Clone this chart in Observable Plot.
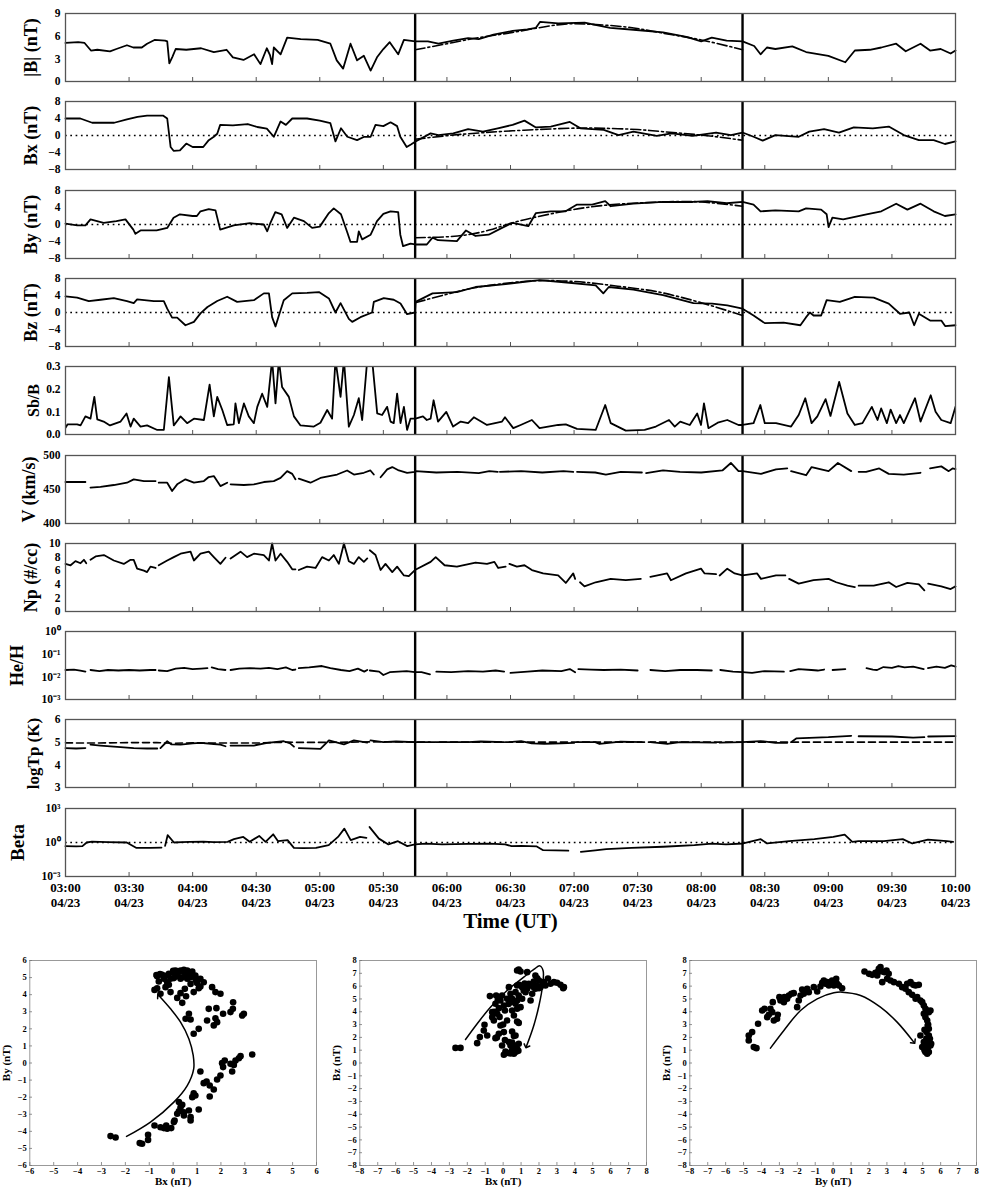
<!DOCTYPE html>
<html><head><meta charset="utf-8">
<script src="https://cdn.jsdelivr.net/npm/d3@7"></script>
<script src="https://cdn.jsdelivr.net/npm/@observablehq/plot@0.6"></script>
<style>
body{margin:0;background:#fff;}
#wrap{position:relative;width:989px;height:1197px;overflow:hidden;}
#wrap svg{position:absolute;overflow:visible;}
</style></head><body><div id="wrap"></div>
<script>
// ---------- time axis (minutes after 03:00 UT on 04/23) ----------
const timeTicks = [0,30,60,90,120,150,180,210,240,270,300,330,360,390,420];
const timeLabels = ["03:00","03:30","04:00","04:30","05:00","05:30","06:00","06:30","07:00","07:30","08:00","08:30","09:00","09:30","10:00"];
const dateLabel = "04/23";
const mcBounds = [165, 319.5]; // 05:45 and 08:19:30 UT

// ---------- series: [minute, value], null = data gap ----------
const magB = [[0,5.1],[6,5.2],[9,5.1],[12,4.1],[15,4.2],[21,4.0],[24,4.3],[29,4.8],[32,4.5],[36,4.5],[38.5,5.0],[42,5.5],[47,5.4],[48,5.3],[49,2.4],[50.5,3.3],[52,4.3],[57,4.2],[64,4.4],[70,3.9],[76,4.2],[79,3.2],[84,2.85],[89,3.6],[92,2.3],[95,4.4],[96.5,3.5],[97.5,2.3],[98.3,4.5],[101.5,3.6],[104.6,5.8],[111,5.6],[119,5.5],[125,5.0],[128,2.8],[131,1.7],[134.5,5.0],[137.6,2.8],[140.8,3.4],[144,1.45],[147,3.2],[150,4.3],[153,5.2],[157,3.6],[159.7,5.5],[165,5.3],[171,5.3],[176,5.0],[183,5.4],[190,5.75],[195,5.6],[202,6.2],[211,6.7],[218,6.9],[222,7.1],[224,7.9],[232.5,7.7],[245,7.8],[250,7.5],[257,7.1],[268,6.85],[282,6.5],[293,5.9],[300,5.3],[305,5.8],[312,5.4],[319.5,5.3],[325,4.7],[328,3.6],[331,4.5],[335,4.3],[343,4.65],[349.5,3.9],[360,3.4],[368,2.55],[372.5,4.1],[379.6,4.2],[385,4.5],[392,5.0],[396.5,4.0],[403.5,5.0],[408,4.1],[413,4.3],[417.7,3.7],[420,4.1]];
const fitB = [[165,4.2],[180,5.0],[195,5.8],[211,6.5],[232,7.5],[246,7.6],[265,7.2],[282,6.4],[300,5.5],[319.5,4.2]];

const bx = [[0,4.0],[7,4.0],[12.6,3.0],[23,3.0],[29,3.8],[34,4.4],[38.5,4.7],[46,4.7],[48,4.0],[49.6,-2.7],[51,-3.6],[54,-3.5],[57,-1.9],[60,-2.7],[65,-2.7],[67.6,-1.1],[70,-0.3],[71.6,0.4],[73,2.5],[79,2.4],[86,2.7],[90.5,2.0],[95,1.6],[98.3,-0.3],[101.5,3.3],[104,2.5],[107,4.0],[114,4.0],[120,3.5],[125,2.9],[127.4,-1.4],[130,1.7],[133,-0.3],[137.6,-1.1],[141,-0.3],[144,-0.3],[146.3,2.5],[150,2.2],[153.4,3.1],[156.5,2.2],[158,-0.3],[161,-2.7],[163,-2.1],[165.2,-1.4],[172.3,0.5],[176,0.1],[183,0.5],[190,1.5],[197,0.9],[204,1.7],[211,2.5],[216.6,3.5],[222,1.9],[229,2.1],[238,3.2],[243,1.7],[254,1.3],[261,0.1],[268,0.9],[279,-0.1],[286,0.5],[296,-0.1],[307,0.7],[314,0.1],[319.5,0.7],[324.7,-0.3],[329,-1.2],[335,0.1],[346,-0.3],[351,0.9],[358,1.5],[365,0.7],[372,1.9],[381,1.7],[388.5,2.1],[395.6,0.1],[402.7,-1.1],[409.7,-1.1],[415,-2.0],[420,-1.4]];
const fitBx = [[165,-0.9],[185,0.2],[211,1.1],[238,1.7],[254,1.7],[270,1.4],[282,0.9],[300,0.1],[319.5,-1.1]];

const by = [[0,0.2],[5.5,-0.2],[9.4,-0.2],[11.8,1.2],[18,0.4],[24,0.8],[28.3,1.2],[32,-1.2],[33,-2.2],[35.4,-1.4],[43,-1.4],[48,-0.8],[51,1.6],[54,2.4],[60,2.0],[62,2.0],[63.7,3.1],[67.6,3.6],[70.8,3.3],[73,-1.2],[79.4,-0.2],[87,0.3],[93.6,0.0],[95.2,-1.6],[96.7,0.4],[99,2.9],[102,2.4],[104.6,-0.8],[107.8,1.6],[112.5,0.8],[116.4,-0.8],[120,-0.5],[124.3,2.7],[126.6,3.8],[130,2.4],[133,-1.9],[134.5,-4.1],[137.6,-4.1],[138.4,-1.6],[140,-3.5],[144,-2.4],[147,0.8],[150,2.5],[153.4,3.1],[157,2.9],[158,-2.4],[159.3,-5.1],[162.8,-4.5],[164.9,-4.7],[170.5,-4.7],[173.2,-3.1],[175.8,-3.7],[184.7,-3.9],[189,-1.4],[193.5,-2.7],[199.7,-2.4],[206,-0.8],[211,0.4],[218.4,-0.4],[222,2.7],[229,3.1],[236,3.1],[241.4,4.7],[248.5,4.7],[254.7,5.5],[257.3,4.3],[268,4.9],[282,5.3],[296,5.3],[303,5.5],[312,5.0],[319.5,5.3],[324.7,4.7],[328,3.1],[335,3.3],[346,3.1],[349.5,3.8],[356.6,3.5],[359.2,2.4],[360.1,-0.6],[361.9,1.6],[367,1.2],[378,2.4],[385,3.1],[392,4.9],[397.3,3.5],[403.5,4.9],[409.7,3.1],[415,2.0],[420,2.4]];
const fitBy = [[165,-3.1],[185,-2.7],[200,-1.3],[211,0.4],[229,2.5],[254,4.5],[282,5.3],[300,5.3],[319.5,4.3]];

const bz = [[0,3.8],[5.5,3.5],[11,2.7],[16.5,3.0],[22.8,3.4],[29,2.7],[32.2,2.2],[33.8,3.1],[41.7,2.7],[46.4,2.7],[48,0.9],[50.3,-1.2],[52.7,-1.2],[56.6,-3.0],[60.6,-2.2],[63.7,-0.2],[67,1.3],[71.6,2.7],[76.3,3.7],[81,2.5],[88.9,2.9],[93.6,4.5],[96,4.5],[97.5,-1.1],[99.1,-3.3],[100.7,-0.7],[103,2.9],[107,4.5],[114,4.6],[119.6,4.8],[124.3,3.3],[127.4,0.0],[129.8,2.2],[133.7,-1.5],[135.3,-2.2],[139.2,-1.1],[144.7,0.0],[145.5,2.5],[150.2,3.4],[154.9,3.0],[158.1,2.1],[161.2,-0.4],[164.9,0.0],[165.2,2.5],[173.2,4.5],[184.7,4.8],[193.5,6.0],[207.7,6.7],[223.7,7.6],[237.8,7.0],[250.2,6.4],[253.8,4.5],[256.4,6.0],[268,5.4],[282,4.1],[296.3,2.2],[305.2,2.1],[312.3,1.7],[319.5,0.9],[324.7,-0.7],[330,-2.5],[338.9,-2.4],[346.8,-3.0],[349.5,-1.1],[351.3,0.0],[353,-0.7],[356.6,-0.7],[359.2,2.9],[365.4,2.5],[372.5,3.7],[381.4,3.5],[388.5,2.1],[393.8,-0.3],[398.2,0.0],[400.5,-3.0],[402.7,-0.3],[408,-1.9],[413.3,-1.9],[415.1,-3.2],[420,-3.0]];
const fitBz = [[165,2.3],[180,4.3],[194,5.9],[210,7.0],[224,7.5],[240,7.3],[254,6.6],[270,5.6],[282,4.6],[300,2.3],[319.5,-0.7]];

const sbB = [[0,0.03],[1,0.045],[5.5,0.045],[7.1,0.04],[9.4,0.08],[11.8,0.07],[13.6,0.166],[15,0.067],[18,0.057],[21,0.04],[26,0.057],[28.8,0.093],[30.7,0.035],[32.2,0.07],[35.4,0.035],[38.5,0.04],[43.3,0.02],[46.4,0.02],[48.8,0.253],[51.1,0.04],[54.3,0.08],[57.4,0.05],[60.6,0.07],[65.3,0.064],[68,0.22],[70,0.08],[71.6,0.166],[74,0.108],[76.3,0.042],[79.4,0.045],[80.2,0.137],[81.8,0.05],[84.2,0.137],[86.5,0.08],[88.9,0.05],[90.5,0.122],[92.8,0.18],[95.2,0.122],[97.5,0.33],[99.1,0.137],[100.7,0.33],[102.2,0.21],[105.4,0.166],[107.8,0.08],[110.9,0.04],[117.2,0.035],[120.3,0.052],[123.5,0.108],[125.8,0.07],[127.4,0.33],[129.8,0.166],[131.4,0.33],[133.7,0.035],[136.1,0.086],[138.4,0.16],[140,0.064],[142.4,0.33],[144.7,0.33],[147.1,0.093],[149.4,0.086],[151.8,0.122],[153.4,0.057],[154.9,0.05],[156.5,0.18],[158.1,0.05],[159.7,0.122],[161.2,0.02],[162.8,0.07],[165.2,0.07],[168.7,0.08],[170.5,0.064],[172.3,0.07],[173.7,0.151],[175.8,0.057],[179.7,0.1],[182.9,0.035],[186.5,0.057],[190,0.05],[192.7,0.076],[198.9,0.042],[206,0.057],[207.4,0.076],[211.3,0.028],[214.8,0.042],[220.1,0.064],[223.7,0.028],[232.5,0.042],[236.1,0.045],[241.4,0.025],[250.2,0.02],[254.7,0.13],[257.3,0.05],[264.4,0.017],[273.3,0.02],[278.6,0.035],[284.8,0.064],[287.5,0.035],[290.1,0.057],[294.6,0.042],[298.1,0.093],[299.9,0.042],[301.3,0.137],[303.4,0.028],[307.8,0.052],[312.3,0.064],[317.6,0.042],[319.5,0.042],[324.7,0.05],[327.9,0.13],[330,0.05],[335.3,0.05],[342.4,0.035],[346,0.086],[349.1,0.16],[352.1,0.05],[354.8,0.08],[358.7,0.156],[361,0.082],[365.1,0.232],[369,0.093],[372.5,0.042],[376.1,0.05],[380.5,0.122],[383.2,0.064],[384.9,0.115],[387.6,0.05],[389.4,0.11],[392,0.05],[393.8,0.086],[395.6,0.05],[400.9,0.16],[403.5,0.057],[408.3,0.173],[410.6,0.1],[413.3,0.064],[417.7,0.05],[420,0.122]];

const vSw = [[0,461],[4,461],[9.4,461],[10.5,null],[11.8,452.7],[16.5,454],[22.8,456.6],[29,460],[32.2,464.9],[37,462.4],[42.5,462.4],[43.3,null],[44,460],[48,460],[50.3,447.8],[52.7,457.6],[56.6,465],[60.6,460],[65.3,462.4],[67.6,468.3],[70,469.8],[73.1,455],[76.3,460],[77,null],[77.9,457.6],[84.2,456.6],[88.9,457.6],[93.6,461],[98.3,462.4],[101.5,467],[104.6,477],[107,473],[108.5,465],[109.3,null],[110.1,466],[115.6,460],[120.3,467],[125.1,470],[128.2,472],[132.9,478],[136.1,472],[140.8,474.6],[143.9,478],[145.5,472],[147.5,null],[148.7,468],[151.8,479.5],[154.2,483],[157.3,478],[161.2,474.6],[164.9,476],[165.2,477],[175,475],[185,476],[195,474],[200,477],[204,476],[204.5,null],[205,476],[215,477],[225,475],[235,477],[239.6,476],[240.5,null],[241.4,476],[250,475],[255,472],[262,476],[272,475],[273.3,null],[274,474],[282,478],[290,476],[300,475],[310,478],[314,489],[317.6,477],[319.5,477],[328.2,473],[335.3,479.5],[340.6,481],[341.5,null],[342.4,477],[349.5,471],[352.1,483],[360.1,477],[364.5,489],[370.8,477],[373.4,null],[374.3,476],[377.8,476],[384,481],[388.5,473],[395.6,472],[403.5,474.6],[405.3,null],[408,481],[413.3,484],[416.8,477],[418.6,481],[420,480]];

const np = [[0,7.0],[2.4,6.8],[4.7,7.4],[7.1,7.1],[8.7,7.6],[9.8,7.1],[10.5,null],[11.8,7.6],[14.2,8.1],[18.1,8.3],[22.8,7.5],[27.5,7.0],[30.7,7.6],[32.2,7.6],[33.8,6.3],[37,6.0],[38.5,5.8],[40.1,6.6],[42.5,6.4],[43.3,null],[44,6.8],[48,7.5],[51.1,8.0],[54.3,8.5],[59,8.8],[60.6,7.5],[63.7,8.5],[67.6,8.8],[70,8.0],[73.1,7.0],[75.5,7.9],[76.5,null],[77.9,7.8],[82.6,8.8],[85.7,8.0],[88.9,8.5],[93.6,8.3],[96,7.5],[97.5,10.0],[99.1,7.5],[101.5,8.5],[104.6,7.3],[107,6.2],[108.5,6.2],[109.3,null],[110.1,6.1],[114,6.6],[118,6.4],[121.1,8.0],[124.3,7.5],[126.6,8.3],[129,7.0],[131.4,10.0],[133.7,7.4],[136.1,7.0],[138.4,8.0],[140.8,7.3],[142.4,7.8],[142.8,null],[143.6,9.0],[146.3,8.3],[148.7,6.1],[151,7.0],[154.2,5.8],[156.5,6.6],[159.7,5.3],[162,5.2],[164.9,6.1],[172.3,7.3],[174.7,8.0],[178.9,6.8],[184.7,6.6],[193.5,7.2],[198.9,7.0],[202.4,7.3],[204.2,6.4],[207.7,6.6],[208.6,null],[209.5,7.0],[213,6.6],[216.6,6.8],[220.1,6.1],[225.4,5.6],[232.5,5.3],[236.1,4.2],[239.6,5.6],[240.5,4.8],[241,null],[242.8,4.3],[244.9,3.7],[250.2,4.3],[257.3,4.8],[264.4,4.6],[271.5,4.8],[273.5,null],[276,5.1],[283.9,5.6],[285.7,4.6],[292.8,5.6],[299.9,6.3],[301.6,5.6],[307,5.5],[307.5,null],[308.7,5.3],[312.3,6.3],[315.8,5.6],[319.5,5.3],[326.4,5.6],[328.2,4.8],[335.3,5.3],[339.7,5.3],[340.6,null],[341.5,4.8],[346,4.1],[353,4.6],[360.1,4.8],[363.7,4.3],[369,3.8],[372.5,3.6],[373.4,null],[374.3,3.8],[381.4,3.8],[388.5,4.3],[392,3.6],[397.3,4.2],[402.7,4.0],[405.3,3.1],[406,null],[407.1,4.1],[413.3,3.7],[417.7,3.3],[420,3.7]];

const heH = [[0,0.02],[4,0.021],[7,0.019],[9.4,0.017],[10.5,null],[11.8,0.02],[16,0.018],[20,0.02],[25,0.019],[30,0.02],[35,0.019],[40,0.02],[42.5,0.02],[43.3,null],[44,0.019],[48,0.018],[52,0.023],[56,0.025],[60,0.022],[64,0.023],[67,0.024],[68,null],[69,0.026],[72,0.022],[75.5,0.02],[76.5,null],[77.9,0.02],[82,0.023],[87,0.024],[92,0.023],[96,0.025],[100,0.022],[104,0.026],[107,0.02],[108.5,0.021],[109.3,null],[110.1,0.024],[115,0.026],[121,0.03],[125,0.024],[130,0.02],[134,0.018],[138,0.023],[141,0.017],[142.4,0.02],[142.8,null],[143.6,0.019],[148,0.017],[150,0.012],[153,0.016],[157,0.017],[161,0.018],[164.9,0.016],[168,0.016],[172,0.013],[174,null],[175,0.017],[182,0.016],[190,0.018],[197,0.017],[203,0.019],[207,0.017],[208.6,null],[210,0.015],[218,0.017],[225,0.019],[234,0.018],[238,0.022],[240.5,0.016],[241,null],[242,0.022],[248,0.021],[254,0.02],[262,0.021],[270,0.019],[275,null],[276,0.02],[283,0.018],[290,0.02],[298,0.02],[305,0.019],[308,null],[309,0.02],[315,0.017],[319.5,0.016],[324,0.015],[330,0.018],[339,0.017],[341,null],[342,0.018],[346,0.022],[352,0.02],[355,0.019],[358,0.021],[361,null],[362,0.02],[368,0.022],[370,null],[378,0.024],[381,0.021],[383,0.02],[386,0.027],[390,0.025],[393,0.03],[396,0.026],[400,0.028],[405,0.022],[406,null],[407,0.024],[411,0.028],[415,0.025],[418,0.032],[420,0.028]];

const logTp = [[0,4.74],[5,4.72],[9.4,4.74],[10.5,null],[11.8,4.89],[16.5,4.85],[24.4,4.79],[32.2,4.74],[38.5,4.72],[43.3,4.72],[44,null],[44.8,4.74],[48,5.04],[50,4.9],[54.3,4.89],[60,4.95],[63.7,4.97],[70,4.92],[73.1,4.89],[75.5,4.82],[76.5,null],[77.9,4.85],[88.9,4.85],[95.2,4.97],[103,5.04],[106,4.95],[107.8,4.8],[109.3,null],[110.1,4.74],[120.3,4.7],[124.3,5.08],[131.4,4.9],[136.1,5.08],[141,5.0],[142.4,4.98],[142.8,null],[143.9,5.08],[150,5.0],[156,5.03],[164.9,5.0],[172,5.0],[174,null],[175,5.0],[190,5.0],[196,5.03],[207,5.0],[208.6,null],[209.5,5.0],[215,5.05],[220,4.95],[226,4.93],[234,4.95],[240,4.97],[240.5,null],[241.4,5.0],[250,5.0],[252,4.92],[262,5.02],[272,5.0],[273.5,null],[276,5.0],[284,4.92],[290,5.0],[307,4.98],[307.5,null],[308.7,4.98],[319.5,5.0],[328,5.05],[335,4.97],[340.6,4.97],[341.5,null],[342.4,5.0],[345,5.17],[360,5.22],[370.8,5.28],[373.4,null],[374.3,5.26],[390,5.25],[400,5.2],[405.3,5.22],[406,null],[407.1,5.25],[420,5.27]];
const logTpExp = [[0,4.97],[10,4.96],[20,4.97],[30,4.98],[43,4.98],[50,4.95],[60,4.97],[75,4.96],[90,4.96],[105,5.0],[110,4.99],[125,4.99],[140,5.01],[155,5.02],[165,5.0],[200,5.0],[240,5.0],[280,5.0],[320,5.0],[360,5.0],[400,5.0],[420,5.0]];

const beta = [[0,0.48],[5,0.45],[8,0.48],[10,1.0],[12.5,1.2],[20,1.1],[28.9,1.0],[31,0.6],[33.3,0.34],[40,0.34],[45.3,0.36],[46.5,null],[47,0.5],[48.2,4.4],[51.2,1.0],[55,1.1],[58.6,1.15],[65,1.2],[70,1.1],[76.5,1.15],[79.5,1.96],[83.9,3.1],[86.9,1.15],[91.4,3.8],[94.4,1.15],[98,5.3],[100.3,1.3],[104.8,1.6],[107.8,0.34],[112,0.32],[118.2,0.34],[124.2,0.58],[128.6,3.1],[131.6,16.7],[134.6,1.6],[139,3.1],[142,2.6],[142.8,null],[143.5,23],[147.9,2.2],[152.4,0.67],[156.9,1.3],[161.3,0.48],[164.9,0.67],[170,0.8],[177.7,0.67],[190,0.75],[200,0.8],[207.5,0.67],[210.5,0.48],[215,0.5],[222.4,0.45],[225.4,0.21],[237.3,0.19],[240,null],[243.2,0.15],[250,0.2],[255.2,0.26],[267.1,0.34],[282,0.42],[296.8,0.58],[305,0.8],[311.7,0.67],[319.8,0.82],[328.1,1.96],[331.1,0.82],[341.5,1.3],[353.4,1.96],[362.3,3.1],[367.7,5.0],[371.3,1.15],[374.2,1.3],[386.2,1.3],[395.1,1.96],[399.6,0.82],[407,1.8],[415.9,1.3],[418.9,1.15]];

// ---------- hodograms inside the magnetic cloud ----------
const hodoBxBy = [[-2.62,-4.28],[-2.41,-4.36],[-1.40,-4.69],[-1.30,-4.73],[-1.05,-4.20],[-1.05,-4.50],[-0.78,-3.66],[-0.53,-3.76],[-0.39,-3.81],[-0.29,-3.66],[-0.25,-3.85],[-0.08,-3.81],[0.03,-3.46],[0.06,-3.37],[0.17,-2.97],[0.24,-2.82],[0.31,-2.59],[0.24,-2.29],[0.38,-2.45],[0.45,-2.88],[0.45,-3.07],[0.66,-2.78],[0.73,-3.17],[0.73,-3.37],[0.86,-1.77],[0.80,-2.0],[0.93,-1.90],[1.07,-2.72],[1.14,-0.50],[1.28,-1.18],[1.40,-1.08],[1.53,-1.32],[1.53,-1.96],[1.70,-1.55],[1.84,-0.97],[1.98,-0.73],[2.05,-0.01],[2.09,-0.24],[2.16,0.15],[2.40,-0.05],[2.47,-0.50],[2.54,-0.11],[2.61,0.15],[2.75,0.28],[2.82,0.40],[3.31,0.50],[0.86,1.71],[1.07,2.0],[0.52,2.59],[0.73,2.55],[0.66,2.88],[1.42,2.49],[1.49,3.17],[1.70,2.20],[1.77,2.62],[1.81,3.21],[1.84,2.39],[2.09,2.88],[2.40,2.98],[2.50,3.17],[2.51,3.56],[2.89,2.78],[2.96,2.88],[0.17,3.81],[0.38,3.52],[0.54,3.91],[0.31,4.09],[0.49,4.34],[0.86,4.15],[1.07,4.38],[1.14,4.48],[1.28,4.73],[1.63,4.44],[1.77,4.15],[1.98,4.05],[0.73,4.63],[1.0,4.69],[0.93,5.12],[-0.11,4.15],[-0.32,4.44],[-0.53,4.05],[-0.67,4.38],[-0.78,4.28],[-0.60,4.77],[-0.67,5.08],[-0.46,5.16],[-0.25,5.12],[-0.18,5.22],[-0.11,4.93],[0.03,5.28],[0.10,5.41],[0.24,5.32],[0.31,5.41],[0.45,5.36],[0.52,5.12],[0.59,5.41],[0.66,5.22],[0.73,5.02],[0.80,5.36],[0.03,4.97],[0.17,5.08],[0.38,5.02],[-0.39,4.93],[-0.25,4.73],[-0.18,4.58],[-0.39,5.08],[0.31,4.93],[0.59,4.93],[1.14,4.93],[-0.55,5.2],[-0.7,5.15],[0.0,5.4],[0.45,5.45],[0.7,5.3],[0.95,4.85]];
const hodoBxBz = [[-2.66,1.18],[-2.38,1.18],[-1.45,1.55],[-1.30,2.02],[-1.08,2.54],[-1.04,2.98],[-0.89,2.15],[-0.74,5.22],[-0.61,3.97],[-0.61,3.58],[-0.52,3.32],[-0.43,4.62],[-0.39,5.27],[-0.33,3.84],[-0.24,4.28],[-0.43,1.94],[-0.24,2.28],[-0.15,2.93],[-0.15,4.88],[-0.06,5.27],[0.04,4.49],[0.04,2.41],[-0.06,1.37],[0.13,0.90],[0.22,3.32],[0.22,5.01],[0.32,5.92],[0.41,5.40],[0.41,4.75],[0.50,4.10],[0.60,3.71],[0.50,5.01],[0.69,4.62],[0.69,5.53],[0.78,4.88],[0.50,2.46],[0.60,2.10],[0.5,1.6],[0.69,1.37],[0.78,1.11],[0.5,0.98],[0.69,0.85],[0.41,1.37],[0.32,1.63],[0.87,1.50],[0.04,0.64],[0.22,0.79],[0.6,0.72],[0.69,2.15],[0.78,3.24],[0.87,3.13],[0.78,4.23],[0.97,4.36],[0.87,5.27],[1.06,5.01],[1.15,5.66],[0.78,7.22],[0.87,7.30],[0.97,7.14],[1.34,7.09],[1.43,6.18],[1.53,6.05],[1.71,5.92],[1.53,4.88],[1.62,5.40],[1.80,6.83],[1.90,6.62],[2.0,6.44],[2.08,5.92],[2.27,6.31],[2.36,6.05],[2.64,6.18],[2.83,6.31],[3.01,6.26],[3.20,6.10],[3.39,5.92],[1.80,5.79],[2.0,5.84],[1.34,5.79],[1.25,5.53],[3.35,5.84],[0.78,6.05],[1.06,5.92],[1.71,6.36],[-0.3,4.9],[-0.5,4.0],[-0.2,3.6],[0.1,4.1],[0.3,4.6],[0.6,1.2],[0.85,0.95],[0.4,0.75],[0.1,1.8],[0.0,3.0],[-0.35,2.0],[2.5,6.6],[2.2,6.2],[1.9,6.0],[0.9,6.1],[1.2,6.2]];
const hodoByBz = [[-4.71,1.76],[-4.71,2.15],[-4.52,2.41],[-4.43,1.24],[-4.28,1.16],[-4.19,3.06],[-3.96,4.10],[-3.83,4.23],[-3.68,3.58],[-3.59,3.76],[-3.40,3.97],[-3.50,4.23],[-3.31,3.32],[-3.13,3.45],[-3.09,3.76],[-3.37,4.75],[-3.0,5.14],[-2.94,4.88],[-2.75,4.75],[-2.72,5.14],[-2.57,5.01],[-2.47,5.27],[-2.33,5.40],[-2.20,5.45],[-2.01,4.36],[-1.92,4.88],[-1.82,5.27],[-1.73,5.74],[-1.64,5.40],[-1.45,5.79],[-1.36,5.53],[-1.08,5.92],[-0.89,5.58],[-0.71,5.97],[-0.61,6.26],[-0.52,6.44],[-0.43,6.18],[-0.33,6.31],[-0.24,6.05],[-0.15,6.18],[-0.06,6.44],[0.04,6.05],[0.17,6.57],[0.22,6.18],[0.32,6.05],[0.50,5.84],[1.75,7.14],[2.0,6.96],[2.18,6.88],[2.36,7.04],[2.46,6.83],[2.49,7.09],[2.55,7.35],[2.61,7.22],[2.64,7.48],[2.74,7.14],[2.87,7.09],[2.98,7.22],[3.10,6.96],[2.74,6.31],[3.01,6.57],[3.20,6.44],[3.39,6.31],[3.67,6.18],[3.85,5.92],[4.04,5.79],[4.13,6.18],[4.32,6.31],[4.47,6.10],[4.60,6.05],[4.78,6.10],[4.22,5.53],[4.41,5.32],[4.60,5.01],[4.69,5.14],[4.87,4.88],[4.97,4.75],[5.06,4.49],[5.15,4.23],[5.25,4.10],[5.34,3.97],[5.43,4.10],[5.06,3.84],[5.15,3.58],[5.25,3.32],[5.28,2.93],[5.34,2.67],[5.21,2.41],[5.34,2.15],[5.40,1.89],[4.87,2.15],[5.06,1.63],[5.15,1.37],[5.25,1.11],[5.34,0.85],[5.43,1.37],[4.97,1.24],[5.25,1.63],[5.47,1.50],[5.15,0.85],[5.25,0.72],[5.1,1.0],[5.3,1.25],[5.2,1.9],[5.3,3.0],[5.1,2.6]];
const arrowBxBy = [[-1.95,-4.3],[-0.95,-3.46],[0.03,-2.29],[0.59,-1.32],[0.86,-0.34],[0.84,0.44],[0.66,1.41],[0.31,2.39],[-0.11,3.17],[-0.6,3.95]];
const arrowBxBz = [[-2.1,1.83],[-1.45,3.06],[-0.71,4.36],[0.22,5.66],[1.15,6.7],[1.71,7.3],[2.05,7.58],[2.23,7.2],[2.2,6.05],[2.0,4.49],[1.71,2.93],[1.3,1.3]];
const arrowByBz = [[-3.5,1.16],[-2.75,2.54],[-1.82,4.1],[-0.89,5.01],[0.04,5.48],[0.5,5.53],[1.53,5.27],[2.64,4.36],[3.57,3.19],[4.5,1.63]];
const hodoTicks6 = [-6,-5,-4,-3,-2,-1,0,1,2,3,4,5,6];
const hodoTicks8 = [-8,-7,-6,-5,-4,-3,-2,-1,0,1,2,3,4,5,6,7,8];

// ---------- drawing ----------
const FONT = '"Liberation Serif","Times New Roman",Times,serif';
const wrap = document.getElementById("wrap");
const SUP = {"-":"\u207B","0":"\u2070","1":"\u00B9","2":"\u00B2","3":"\u00B3"};
const pow10 = d => "10" + String(Math.round(Math.log10(d))).split("").map(c => SUP[c]).join("");
const intFmt = d => String(d).replace("-", "\u2212");
const X = d => d[0], Y = d => (d[1] == null ? NaN : d[1]);

const panels = [
  {label:"|B| (nT)", data:magB, fit:fitB, domain:[0,9], ticks:[0,3,6,9]},
  {label:"Bx (nT)", data:bx, fit:fitBx, domain:[-8,8], ticks:[-8,-4,0,4,8], ref:0},
  {label:"By (nT)", data:by, fit:fitBy, domain:[-8,8], ticks:[-8,-4,0,4,8], ref:0},
  {label:"Bz (nT)", data:bz, fit:fitBz, domain:[-8,8], ticks:[-8,-4,0,4,8], ref:0},
  {label:"Sb/B", data:sbB, domain:[0,0.3], ticks:[0,0.1,0.2,0.3], fmt:d3.format(".1f"), clip:true, fs:16, dx:-32},
  {label:"V (km/s)", data:vSw, domain:[400,500], ticks:[400,450,500], dx:-36},
  {label:"Np (#/cc)", data:np, domain:[0,10], ticks:[0,2,4,6,8,10]},
  {label:"He/H", data:heH, type:"log", domain:[1e-3,1], ticks:[1e-3,1e-2,1e-1,1], fmt:pow10, dx:-48},
  {label:"logTp (K)", data:logTp, dashed:logTpExp, domain:[3,6], ticks:[3,4,5,6], fs:17, dx:-32},
  {label:"Beta", data:beta, type:"log", domain:[1e-3,1e3], ticks:[1e-3,1,1e3], fmt:pow10, ref:1, fs:19, dx:-48}
];

panels.forEach((p, i) => {
  const last = i === panels.length - 1;
  const frameTop = 13 + 88.3 * i;
  const mt = 8, mb = last ? 72 : 8;
  const marks = [];
  if (p.ref !== undefined) marks.push(Plot.ruleY([p.ref], {stroke:"#000", strokeWidth:1.7, strokeDasharray:"1.7,3.6"}));
  marks.push(Plot.tickX(timeTicks.slice(1, -1), {x:d => d, insetTop:64, stroke:"#555", strokeWidth:1}));
  if (p.fit) marks.push(Plot.line(p.fit, {x:X, y:Y, curve:"natural", stroke:"#000", strokeWidth:1.6, strokeDasharray:"10,3,2,3"}));
  if (p.dashed) marks.push(Plot.line(p.dashed, {x:X, y:Y, stroke:"#000", strokeWidth:1.6, strokeDasharray:"7,4"}));
  marks.push(Plot.line(p.data, {x:X, y:Y, stroke:"#000", strokeWidth:1.8, clip:!!p.clip}));
  marks.push(Plot.ruleX(mcBounds, {x:d => d, stroke:"#000", strokeWidth:2.4}));
  marks.push(Plot.frame({stroke:"#555", strokeWidth:1.3}));
  marks.push(Plot.axisY({ticks:p.ticks, tickFormat:p.fmt || intFmt, tickSize:0, tickPadding:5, fontSize:11.5, fontWeight:"bold", label:null}));
  marks.push(Plot.text([p.label], {text:d => d, frameAnchor:"left", textAnchor:"middle", dx:p.dx || -34, rotate:-90, fontSize:p.fs || 18, fontWeight:"bold"}));
  if (last) {
    marks.push(Plot.axisX({ticks:timeTicks, tickFormat:d => timeLabels[timeTicks.indexOf(d)] + "\n" + dateLabel, tickSize:0, tickPadding:6, fontSize:13, fontWeight:"bold", lineHeight:1.08, label:null}));
    marks.push(Plot.text(["Time (UT)"], {text:d => d, frameAnchor:"bottom", dy:51, fontSize:21, fontWeight:"bold"}));
  }
  const svg = Plot.plot({
    width:989, height:mt + 68 + mb,
    marginLeft:65, marginRight:34, marginTop:mt, marginBottom:mb,
    x:{domain:[0,420], ...(last ? {} : {axis:null})},
    y:{type:p.type || "linear", domain:p.domain},
    style:{fontFamily:FONT, background:"transparent", color:"#000", overflow:"visible"},
    marks
  });
  svg.style.left = "0px";
  svg.style.top = (frameTop - mt) + "px";
  wrap.append(svg);
});

const hodos = [
  {left:0, data:hodoBxBy, arrow:arrowBxBy, dom:[-6,6], ticks:hodoTicks6, xl:"Bx (nT)", yl:"By (nT)"},
  {left:330, data:hodoBxBz, arrow:arrowBxBz, dom:[-8,8], ticks:hodoTicks8, xl:"Bx (nT)", yl:"Bz (nT)"},
  {left:660, data:hodoByBz, arrow:arrowByBz, dom:[-8,8], ticks:hodoTicks8, xl:"By (nT)", yl:"Bz (nT)"}
];
hodos.forEach(h => {
  const svg = Plot.plot({
    width:330, height:252,
    marginLeft:29.3, marginRight:14, marginTop:15, marginBottom:32,
    x:{domain:h.dom}, y:{domain:h.dom},
    style:{fontFamily:FONT, background:"transparent", color:"#000", overflow:"visible"},
    marks:[
      Plot.frame({stroke:"#999", strokeWidth:1}),
      Plot.tickX(h.ticks, {x:d => d, insetTop:202, stroke:"#777", strokeWidth:0.8}),
      Plot.tickY(h.ticks, {y:d => d, insetRight:284, stroke:"#777", strokeWidth:0.8}),
      Plot.dot(h.data, {x:X, y:Y, r:3.3, fill:"#000", stroke:"none"}),
      Plot.line(h.arrow, {x:X, y:Y, curve:"catmull-rom", stroke:"#000", strokeWidth:1.5, markerEnd:"arrow"}),
      Plot.axisX({ticks:h.ticks, tickSize:0, tickPadding:2, fontSize:8.5, fontWeight:"bold", fill:"#000", label:null}),
      Plot.axisY({ticks:h.ticks, tickSize:0, tickPadding:3, fontSize:8.5, fontWeight:"bold", fill:"#000", label:null}),
      Plot.text([h.xl], {text:d => d, frameAnchor:"bottom", dy:19, fontSize:11, fontWeight:"bold"}),
      Plot.text([h.yl], {text:d => d, frameAnchor:"left", textAnchor:"middle", dx:-23, rotate:-90, fontSize:11, fontWeight:"bold"})
    ]
  });
  svg.style.left = h.left + "px";
  svg.style.top = "945px";
  wrap.append(svg);
});
</script></body></html>
